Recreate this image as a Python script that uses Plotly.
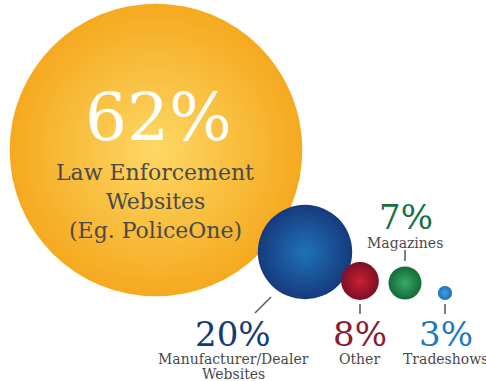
import plotly.graph_objects as go

# ---- data ----
categories = ["Law Enforcement\nWebsites\n(Eg. PoliceOne)",
              "Manufacturer/Dealer\nWebsites",
              "Other", "Magazines", "Tradeshows"]
percent = [62, 20, 8, 7, 3]
pct_labels = [f"{p}%" for p in percent]

# ---- layout (pixel canvas, y downwards) ----
W, H = 486, 381
bubble_x = [156, 305, 360, 405, 445]
bubble_y = [150, 252, 281, 283, 293]
px_per_pct = 2.36  # bubble radius in px per percent point

# plotly radial gradient: marker.color at the rim, gradient.color at the centre
center_col = ["#fdd865", "#1f72b8", "#c9212f", "#38ab66", "#40a2e0"]
edge_col = ["#f5a91f", "#163a7d", "#7c0f27", "#136a39", "#1a6fb8"]
pct_col = ["#ffffff", "#17397a", "#8c1a33", "#17703f", "#1c7ac0"]
pct_size = [66, 34, 34, 34, 34]
pct_pos = [(158, 117), (233, 334), (360, 334), (406, 217), (446, 334)]
name_pos = [(155, 172), (233, 359), (359, 359), (405, 243), (445, 359)]
name_size = [22, 14, 14, 14, 14]
name_lh = [29, 15, 15, 15, 15]
connectors = [None, (255, 313, 271, 297), (360, 304, 360, 314),
              (405, 250, 405, 261), (445, 304, 445, 314)]

FONT = "DejaVu Serif"
TEXT_GRAY = "#4a4a4a"

fig = go.Figure()
fig.add_trace(go.Scatter(
    x=bubble_x, y=bubble_y, mode="markers",
    marker=dict(
        size=percent, sizemode="diameter", sizeref=1 / (2 * px_per_pct),
        color=edge_col,
        gradient=dict(type="radial", color=center_col),
        line=dict(width=0), opacity=1,
    ),
    hoverinfo="skip", cliponaxis=False, showlegend=False,
))

annotations = []
shapes = []
for i, cat in enumerate(categories):
    x, y = pct_pos[i]
    annotations.append(dict(
        x=x, y=y, xref="x", yref="y", text=pct_labels[i], showarrow=False,
        font=dict(family=FONT, size=pct_size[i], color=pct_col[i]),
        xanchor="center", yanchor="middle"))
    nx, ny = name_pos[i]
    for j, line in enumerate(cat.split("\n")):
        annotations.append(dict(
            x=nx, y=ny + j * name_lh[i], xref="x", yref="y", text=line,
            showarrow=False,
            font=dict(family=FONT, size=name_size[i], color=TEXT_GRAY),
            xanchor="center", yanchor="middle"))
    if connectors[i]:
        x0, y0, x1, y1 = connectors[i]
        shapes.append(dict(type="line", xref="x", yref="y",
                           x0=x0, y0=y0, x1=x1, y1=y1,
                           line=dict(color="#555555", width=1.5)))

fig.update_layout(
    width=W, height=H, margin=dict(l=0, r=0, t=0, b=0),
    paper_bgcolor="white", plot_bgcolor="white",
    xaxis=dict(range=[0, W], visible=False, fixedrange=True),
    yaxis=dict(range=[H, 0], visible=False, fixedrange=True),
    annotations=annotations, shapes=shapes,
)

fig.write_html("out.html")
